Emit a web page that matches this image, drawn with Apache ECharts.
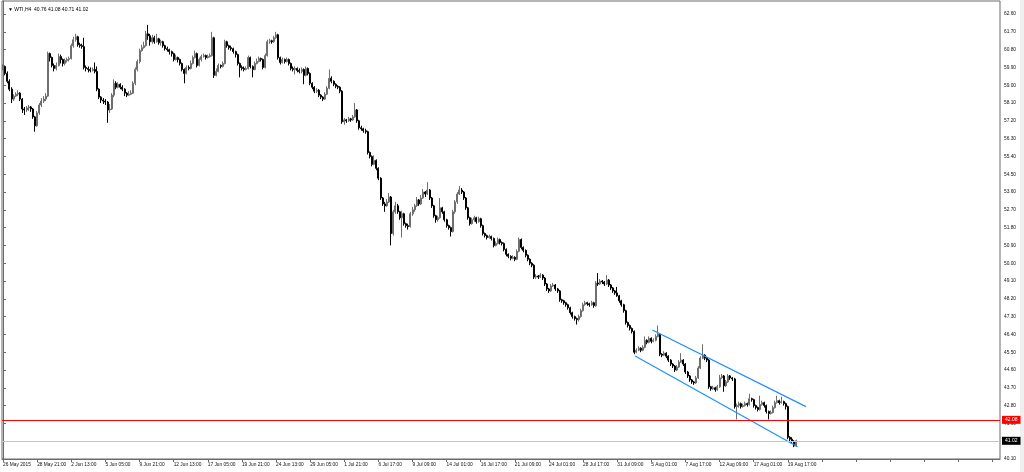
<!DOCTYPE html>
<html>
<head>
<meta charset="utf-8">
<script src="https://cdn.jsdelivr.net/npm/echarts@6/dist/echarts.min.js"></script>
<style>
html,body{margin:0;padding:0;background:#fff;}
#main{width:1024px;height:472px;}
</style>
</head>
<body>
<div id="main"></div>
<script>
// ---- data (WTI, H4) ----
const symbolName = 'WTI,H4';
const firstOpen = 59.85;
const closes = [
59.95,59.6,59.2,58.8,58.3,58.45,58.55,58.6,58.3,57.8,
57.75,57.85,57.9,57.8,57.4,56.95,57.6,58.0,58.2,58.3,
58.45,60.6,60.4,60.0,59.85,60.0,60.45,60.3,60.1,60.25,
60.3,60.35,61.0,61.3,61.45,61.05,61.0,60.95,59.9,59.85,
59.8,59.75,59.8,59.7,58.8,58.4,58.25,58.2,58.15,57.75,
57.8,58.5,59.1,58.9,59.05,58.9,58.8,58.6,58.5,58.55,
58.6,59.1,59.8,60.2,60.75,60.9,61.0,61.6,61.5,61.2,
61.4,61.2,61.35,61.15,61.2,61.0,60.85,60.8,60.7,60.6,
60.3,60.4,60.3,60.1,59.8,59.6,59.9,59.85,60.1,60.4,
60.6,60.0,60.3,60.45,60.5,60.4,60.45,60.5,61.4,59.5,
59.7,60.0,59.95,60.1,61.2,61.0,60.9,60.85,60.7,60.55,
60.1,59.9,59.85,59.8,59.85,60.4,59.95,59.8,60.1,60.2,
60.35,60.3,59.9,60.5,61.2,61.25,61.2,61.4,61.55,60.4,
60.15,60.3,60.2,60.3,60.1,59.85,59.8,59.85,59.75,59.7,
59.8,59.5,59.85,59.6,59.1,58.9,58.7,58.75,58.5,58.4,
58.3,58.55,58.85,59.35,59.2,59.05,58.95,58.9,58.7,57.15,
57.25,57.2,57.3,57.25,57.4,57.75,57.2,56.85,56.8,56.7,
56.65,55.6,55.4,55.0,55.2,54.8,54.3,53.3,53.0,52.9,
53.1,53.35,51.5,52.6,52.9,52.6,52.3,52.5,52.0,51.9,
51.85,52.5,52.7,52.9,53.2,53.0,53.3,53.6,53.5,53.7,
53.3,52.9,52.4,52.2,52.3,52.8,52.6,52.2,51.9,51.8,
51.6,52.6,53.1,53.5,53.7,53.6,53.3,52.8,52.3,52.0,
52.2,52.3,52.1,52.25,51.9,51.5,51.4,51.3,51.35,51.25,
50.9,51.0,51.2,51.05,51.0,50.7,50.45,50.35,50.25,50.3,
50.2,50.6,51.2,50.8,50.65,50.4,50.2,50.0,49.9,49.3,
49.35,49.3,49.4,49.25,48.95,48.7,48.6,48.85,48.9,48.7,
48.6,48.15,48.1,48.0,47.9,47.75,47.5,47.3,47.2,47.15,
47.3,47.6,47.9,48.0,47.95,47.9,48.0,47.85,49.0,48.95,
49.1,49.05,48.95,49.15,48.9,48.75,48.6,48.5,48.35,48.1,
47.9,47.6,47.0,46.85,46.7,46.55,45.5,45.6,45.7,45.6,
45.75,46.1,46.0,46.2,46.05,46.1,46.3,46.4,45.4,45.35,
45.45,45.3,45.1,44.9,44.8,44.6,44.75,45.0,45.1,44.9,
44.5,44.3,44.1,44.0,43.95,44.2,44.7,45.2,45.35,45.2,
45.1,43.75,43.65,43.7,43.6,43.75,44.2,44.3,43.8,44.0,
44.3,44.2,44.15,42.75,42.8,42.9,42.75,42.8,42.9,42.85,
43.15,43.1,42.8,42.7,42.6,42.85,42.95,42.8,42.5,42.4,
42.45,42.7,42.95,43.05,42.95,43.0,42.9,42.75,41.2,41.1,
41.0,40.76,41.02
];
const highs = [
60.05,60.0,59.7,59.3,58.9,58.55,58.65,58.75,58.65,58.35,
57.9,57.95,58.0,57.95,57.85,57.45,57.7,58.1,58.35,58.45,
58.6,60.7,60.65,60.45,60.1,60.15,60.6,60.55,60.35,60.35,
60.4,60.45,61.1,61.45,61.6,61.5,61.15,61.1,61.4,60.0,
59.95,59.9,59.9,60.15,59.95,58.85,58.45,58.35,58.3,58.2,
58.05,58.6,59.3,59.2,59.15,59.1,59.0,58.85,58.65,58.7,
58.75,59.2,59.9,60.3,60.85,61.05,61.2,61.75,62.05,61.6,
61.55,61.5,61.6,61.4,61.3,61.25,61.05,60.95,60.85,60.75,
60.65,60.55,60.45,60.35,60.15,59.85,60.0,60.0,60.25,60.5,
60.75,60.65,60.4,60.55,60.6,60.55,60.55,60.6,61.7,61.45,
59.85,60.1,60.05,60.2,61.3,61.25,61.05,61.0,60.9,60.75,
60.6,60.15,60.0,59.95,59.95,60.5,60.45,60.0,60.2,60.35,
60.45,60.4,60.35,60.6,61.3,61.35,61.3,61.5,61.7,61.6,
60.45,60.4,60.35,60.4,60.35,60.15,59.95,59.95,59.9,59.85,
59.9,59.85,59.95,59.9,59.65,59.15,58.95,58.85,58.8,58.55,
58.45,58.65,58.95,59.8,59.45,59.25,59.1,59.0,58.95,58.75,
57.35,57.3,57.4,57.35,57.5,58.1,57.8,57.25,56.95,56.85,
56.8,56.7,55.65,55.45,55.45,55.25,54.85,54.35,53.35,53.1,
53.25,53.55,53.4,52.7,53.1,53.0,52.65,52.65,52.55,52.05,
52.0,52.6,52.85,53.0,53.35,53.25,53.45,53.75,53.65,54.1,
53.75,53.35,52.95,52.45,52.4,53.3,52.85,52.65,52.25,51.95,
51.85,52.7,53.2,53.6,53.9,53.8,53.65,53.35,52.85,52.35,
52.3,52.4,52.35,52.35,52.3,51.95,51.55,51.45,51.45,51.4,
51.3,51.1,51.3,51.25,51.1,51.05,50.75,50.5,50.4,50.4,
50.35,50.7,51.3,51.25,50.85,50.7,50.45,50.25,50.05,49.95,
49.45,49.4,49.5,49.45,49.3,49.0,48.75,48.95,49.0,48.95,
48.75,48.65,48.2,48.15,48.05,47.95,47.8,47.55,47.35,47.25,
47.4,47.7,48.0,48.1,48.05,48.0,48.1,48.05,49.1,49.5,
49.2,49.15,49.1,49.4,49.2,48.95,48.8,48.65,48.8,48.4,
48.15,47.95,47.65,47.05,46.9,46.75,46.6,45.7,45.8,45.75,
45.85,46.3,46.15,46.3,46.25,46.2,46.4,46.85,46.45,45.45,
45.55,45.5,45.35,45.15,44.95,44.85,44.85,45.1,45.45,45.15,
44.95,44.55,44.35,44.15,44.05,44.3,44.8,45.3,45.9,45.4,
45.25,45.15,43.8,43.8,43.75,43.85,44.35,44.4,44.35,44.1,
44.4,44.35,44.25,44.2,42.9,43.0,42.95,42.9,43.0,42.95,
43.4,43.2,43.15,42.85,42.75,43.3,43.05,43.0,42.85,42.55,
42.55,42.8,43.05,43.3,43.1,43.25,43.05,42.95,42.8,41.25,
41.2,41.05,41.08
];
const lows = [
59.75,59.5,59.1,58.7,58.1,58.2,58.4,58.45,58.2,57.6,
57.5,57.65,57.7,57.65,57.3,56.65,56.9,57.5,57.9,58.1,
58.2,58.4,60.2,59.9,59.7,59.75,59.95,60.1,59.95,60.0,
60.15,60.2,60.3,60.9,61.2,60.95,60.9,60.85,59.8,59.7,
59.65,59.65,59.7,59.6,58.7,58.3,58.1,58.05,58.0,57.1,
57.6,57.75,58.4,58.8,58.85,58.8,58.7,58.45,58.4,58.45,
58.5,58.55,59.0,59.7,60.1,60.7,60.85,60.95,61.3,61.0,
61.1,61.1,61.15,61.05,61.0,60.9,60.75,60.7,60.55,60.45,
60.2,60.25,60.15,60.0,59.7,59.1,59.55,59.75,59.8,60.05,
60.35,59.9,59.95,60.2,60.4,60.3,60.35,60.4,60.45,59.37,
59.45,59.65,59.85,59.9,60.05,60.9,60.8,60.75,60.6,60.4,
60.0,59.4,59.75,59.7,59.75,59.8,59.85,59.4,59.75,60.05,
60.15,60.2,59.8,59.85,60.45,61.1,61.1,61.15,61.35,60.3,
60.05,60.1,60.1,60.15,60.0,59.75,59.7,59.55,59.65,59.6,
59.6,59.05,59.45,59.5,59.0,58.8,58.6,58.6,58.4,58.3,
58.2,58.25,58.5,58.8,59.1,58.95,58.85,58.8,58.6,57.05,
57.0,57.1,57.15,57.15,57.2,57.35,57.1,56.75,56.7,56.6,
56.55,55.5,55.3,54.9,54.95,54.7,54.2,53.2,52.9,52.6,
52.85,53.05,50.9,51.4,52.5,52.5,52.2,51.3,51.9,51.8,
51.7,51.8,52.4,52.6,52.85,52.9,52.95,53.25,53.35,53.45,
53.2,52.8,52.3,52.05,52.1,52.25,52.5,52.1,51.8,51.7,
51.35,51.55,52.5,53.0,53.45,53.5,53.2,52.7,52.2,51.9,
51.95,52.1,52.0,52.05,51.8,51.4,51.3,51.2,51.25,51.15,
50.8,50.85,50.95,50.95,50.9,50.6,50.35,50.25,50.15,50.2,
50.1,50.15,50.55,50.7,50.55,50.3,50.1,49.9,49.8,49.2,
49.2,49.2,49.25,49.15,48.85,48.6,48.5,48.55,48.8,48.6,
48.5,48.05,48.0,47.9,47.8,47.65,47.4,47.2,47.1,46.9,
47.05,47.25,47.55,47.85,47.85,47.8,47.85,47.75,47.8,48.85,
48.9,48.95,48.85,48.9,48.8,48.65,48.5,48.4,48.3,48.0,
47.8,47.5,46.9,46.75,46.6,46.45,45.4,45.45,45.55,45.5,
45.55,45.7,45.9,45.95,45.95,46.0,46.05,46.25,45.3,45.25,
45.3,45.2,45.0,44.8,44.7,44.5,44.55,44.7,44.95,44.8,
44.4,44.2,44.0,43.9,43.85,43.9,44.15,44.65,45.15,45.1,
45.0,43.65,43.55,43.6,43.5,43.55,43.7,44.15,43.5,43.75,
43.95,44.1,44.05,42.65,42.1,42.7,42.65,42.7,42.75,42.75,
42.8,43.0,42.7,42.6,42.5,42.55,42.8,42.7,42.4,42.1,
42.35,42.4,42.65,42.9,42.85,42.9,42.8,42.6,41.1,41.0,
40.9,40.7,40.71
];
// x-axis tick labels, one every 16 bars
const timeLabels = ['26 May 2015','28 May 21:00','2 Jun 13:00','5 Jun 05:00','9 Jun 21:00','12 Jun 13:00',
 '17 Jun 05:00','19 Jun 21:00','24 Jun 13:00','29 Jun 05:00','1 Jul 21:00','6 Jul 17:00','9 Jul 09:00',
 '14 Jul 01:00','16 Jul 17:00','21 Jul 09:00','24 Jul 01:00','28 Jul 17:00','31 Jul 09:00','5 Aug 01:00',
 '7 Aug 17:00','12 Aug 09:00','17 Aug 01:00','19 Aug 17:00'];
const labelStep = 16;
// price-axis tick labels
const priceTicks = [40.10,41.00,41.90,42.80,43.70,44.60,45.50,46.40,47.30,48.20,49.10,50.00,50.90,
 51.80,52.70,53.60,54.50,55.40,56.30,57.20,58.10,59.00,59.90,60.80,61.70,62.60];
// horizontal levels
const redLevel = 42.08;
const bidLevel = 41.02;
// drawn trend channel: [barPosition, price]
const channelUpper = [[304.5, 46.62], [376.5, 42.75]];
const channelLower = [[296.4, 45.31], [372.6, 40.72]];
const totalSlots = 468;   // visible bar slots incl. empty right margin

// ---- build ----
const cats = Array.from({length: totalSlots}, (_, i) => String(i));
const ohlc = closes.map((c, i) => {
  const o = i === 0 ? firstOpen : closes[i - 1];
  return [o, c, Math.min(lows[i], o, c), Math.max(highs[i], o, c)];
});
const last = ohlc[ohlc.length - 1];
const titleText = symbolName + '  ' + [last[0], last[3], last[2], last[1]].map(v => v.toFixed(2)).join(' ');

const FONT = 'Liberation Sans';
function levelSeries(level, lineColor, boxColor) {
  return {
    type: 'line', xAxisIndex: 1, data: [], color: lineColor, silent: true, z: 1,
    markLine: {
      silent: true, symbol: 'none', animation: false,
      lineStyle: {color: lineColor, width: 1, type: 'solid', opacity: 1},
      label: {show: true, position: 'end', distance: 2, formatter: () => level.toFixed(2),
        color: '#fff', backgroundColor: boxColor, fontSize: 5, fontFamily: FONT, padding: [1.5, 3]},
      data: [{yAxis: level}]
    }
  };
}
const chart = echarts.init(document.getElementById('main'), null, {renderer: 'canvas'});
chart.setOption({
  animation: false,
  backgroundColor: '#ffffff',
  title: {
    text: '▼ ' + titleText,
    left: 3, top: 2,
    textStyle: {fontSize: 5, fontWeight: 'normal', color: '#000', fontFamily: FONT}
  },
  grid: {left: 2, right: 24, top: 1, bottom: 13, show: true, borderColor: '#6a6a6a', borderWidth: 1, containLabel: false},
  xAxis: [{
    type: 'category', data: cats, boundaryGap: true,
    axisLine: {show: true, lineStyle: {color: '#6a6a6a', width: 1}},
    axisTick: {show: true, alignWithLabel: true, length: 3, interval: (i) => i % labelStep === 0, lineStyle: {color: '#6a6a6a'}},
    axisLabel: {
      interval: (i) => i % labelStep === 0,
      formatter: (v, i) => timeLabels[Math.round(i / labelStep)] || '',
      fontSize: 4.8, color: '#111', fontFamily: FONT, align: 'left', margin: 3
    },
    splitLine: {show: false}
  }, {
    type: 'value', min: -0.5, max: totalSlots - 0.5, show: false
  }],
  yAxis: {
    type: 'value', position: 'right', min: 40.10, max: 63.26, scale: true,
    axisLine: {show: true, lineStyle: {color: '#6a6a6a', width: 1}},
    axisTick: {show: true, length: 3, customValues: priceTicks, lineStyle: {color: '#6a6a6a'}},
    axisLabel: {customValues: priceTicks, formatter: (v) => v.toFixed(2), fontSize: 4.8, color: '#111', fontFamily: FONT, margin: 4},
    splitLine: {show: false}
  },
  series: [
    levelSeries(bidLevel, '#c4c4c4', '#000000'),
    levelSeries(redLevel, '#ff0000', '#ff0000'),
    {
      type: 'candlestick', xAxisIndex: 0, data: ohlc, barWidth: 1.5, z: 3,
      itemStyle: {color: '#6e6e6e', color0: '#000', borderColor: '#6e6e6e', borderColor0: '#000', borderWidth: 1}
    }, {
      type: 'line', xAxisIndex: 1, data: channelUpper, symbol: 'none', z: 4,
      lineStyle: {color: '#1e8fff', width: 1.2}, silent: true
    }, {
      type: 'line', xAxisIndex: 1, data: channelLower, symbol: 'none', z: 4,
      lineStyle: {color: '#1e8fff', width: 1.2}, silent: true
    }
  ],
  graphic: [{type: 'rect', right: 0, top: 0, shape: {width: 4, height: 472}, style: {fill: '#efefef'}, silent: true}]
});
</script>
</body>
</html>
